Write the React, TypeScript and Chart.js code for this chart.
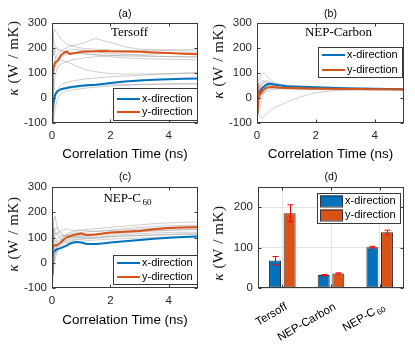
import React, { useEffect, useRef } from 'react';
import { Chart, registerables } from 'chart.js';

Chart.register(...registerables);

const FIG_W = 415;
const FIG_H = 346;

// ---------- data ----------
const TIME_NS = [0, 0.02, 0.05, 0.1, 0.15, 0.2, 0.3, 0.4, 0.5, 0.6, 0.8, 1.0, 1.2, 1.5, 1.8, 2.0, 2.5, 3.0, 3.5, 4.0, 4.5, 5.0];
const SERIES_LABELS = ['x-direction', 'y-direction'];
const X_TICKS = [0, 2, 4];
const Y_TICKS = [-100, 0, 100, 200, 300];
const BAR_TICKS = [0, 100, 200];

// (a) Tersoff
const TERSOFF_X = [-100, -70, -20, 10, 22, 28, 35, 38, 40, 43, 46, 49, 51, 53, 57, 60, 66, 70, 73, 75, 77, 78];
const TERSOFF_Y = [0, 90, 120, 140, 146, 150, 170, 180, 186, 176, 180, 185, 186, 187, 188, 187, 186, 185, 182, 180, 177, 175];
const TERSOFF_RUNS = [
  [0, 150, 260, 275, 265, 255, 235, 225, 215, 210, 205, 200, 198, 195, 193, 192, 190, 190, 192, 193, 193, 195],
  [0, 40, 110, 150, 170, 175, 185, 195, 200, 208, 212, 218, 226, 238, 228, 222, 205, 195, 192, 190, 188, 188],
  [0, 200, 170, 185, 200, 195, 190, 185, 188, 192, 195, 193, 190, 185, 180, 178, 175, 170, 168, 165, 165, 163],
  [0, 60, 90, 120, 135, 145, 160, 170, 175, 178, 182, 180, 176, 172, 168, 165, 160, 158, 156, 155, 154, 152],
  [0, 250, 200, 170, 160, 155, 150, 148, 145, 140, 130, 120, 112, 105, 100, 98, 96, 96, 97, 98, 100, 102],
  [0, -80, -40, 0, 20, 35, 50, 58, 62, 66, 70, 74, 77, 80, 83, 85, 88, 91, 94, 96, 98, 100],
  [0, -120, -90, -50, -20, 0, 15, 22, 27, 30, 34, 37, 40, 43, 46, 48, 51, 53, 55, 56, 57, 58],
  [0, 80, 50, 35, 30, 28, 30, 33, 36, 38, 42, 45, 48, 50, 52, 53, 54, 55, 55, 56, 56, 55],
  [0, 300, 240, 210, 200, 195, 190, 188, 185, 183, 180, 178, 176, 174, 172, 170, 168, 167, 166, 166, 165, 165],
  [0, -30, 30, 80, 110, 125, 135, 140, 145, 150, 155, 158, 162, 165, 168, 170, 172, 174, 176, 178, 180, 182],
];

// (b) NEP-Carbon
const CARBON_X = [-60, -30, 10, 25, 35, 42, 52, 57, 56, 53, 50, 47, 46, 45, 44, 43, 41, 39, 38, 37, 36, 35];
const CARBON_Y = [50, -60, 30, 15, 22, 30, 40, 43, 44, 43, 41, 40, 40, 39, 38, 38, 37, 36, 36, 35, 35, 34];
const CARBON_RUNS = [
  [0, -40, -60, -75, -80, -78, -65, -55, -45, -38, -28, -18, -8, 5, 15, 22, 28, 32, 34, 35, 35, 35],
  [0, 30, 60, 85, 95, 100, 95, 80, 70, 62, 55, 50, 47, 45, 42, 40, 38, 36, 35, 34, 34, 34],
  [0, 60, 40, 30, 45, 60, 70, 68, 62, 58, 52, 48, 46, 44, 42, 41, 40, 38, 37, 36, 35, 35],
  [0, -60, -20, 10, 20, 30, 45, 55, 60, 58, 54, 50, 48, 46, 44, 43, 41, 39, 37, 36, 35, 34],
  [0, 50, 20, 0, 10, 20, 35, 42, 45, 44, 42, 40, 38, 37, 36, 35, 34, 34, 33, 33, 32, 32],
  [0, -30, 10, 40, 55, 62, 65, 62, 58, 55, 50, 47, 45, 43, 41, 40, 39, 38, 37, 36, 36, 35],
  [0, 20, -30, -10, 15, 30, 48, 52, 50, 48, 45, 42, 40, 39, 38, 37, 36, 35, 35, 34, 34, 33],
  [0, 40, 55, 40, 25, 20, 25, 30, 33, 35, 36, 36, 35, 35, 34, 34, 33, 33, 33, 32, 32, 32],
  [0, -10, 30, 60, 70, 72, 60, 50, 45, 42, 40, 38, 37, 37, 36, 36, 35, 35, 34, 34, 34, 34],
  [0, 10, -50, -40, -10, 10, 30, 38, 40, 40, 39, 38, 37, 36, 36, 35, 35, 35, 34, 34, 34, 34],
];

// (c) NEP-C60
const C60_X = [-45, 20, 42, 48, 52, 55, 58, 63, 68, 75, 82, 80, 74, 74, 77, 80, 85, 90, 95, 99, 102, 104];
const C60_Y = [135, 50, 65, 70, 68, 72, 80, 92, 100, 105, 112, 116, 110, 112, 117, 120, 123, 126, 133, 138, 140, 141];
const C60_RUNS = [
  [0, 180, 150, 120, 110, 115, 125, 130, 135, 130, 128, 130, 132, 135, 138, 140, 145, 150, 155, 158, 160, 161],
  [0, -80, -20, 30, 60, 75, 90, 100, 110, 115, 118, 120, 122, 125, 128, 130, 135, 140, 143, 146, 148, 148],
  [0, 100, 160, 185, 160, 130, 110, 105, 100, 102, 105, 108, 110, 112, 115, 118, 122, 126, 128, 130, 132, 132],
  [0, 40, 0, 20, 50, 70, 80, 85, 88, 90, 92, 95, 98, 100, 105, 108, 112, 115, 118, 120, 121, 121],
  [0, -40, 20, 60, 90, 100, 105, 108, 110, 108, 105, 100, 98, 100, 102, 104, 106, 108, 110, 111, 112, 112],
  [0, 120, 80, 50, 40, 45, 60, 72, 80, 85, 90, 92, 95, 97, 100, 102, 105, 108, 110, 112, 115, 116],
  [0, 60, 100, 130, 140, 135, 120, 110, 105, 100, 98, 100, 104, 108, 112, 115, 118, 122, 125, 128, 130, 132],
  [0, -60, -30, 10, 30, 50, 70, 82, 90, 95, 100, 105, 110, 115, 118, 120, 125, 130, 135, 140, 142, 145],
  [0, 150, 120, 90, 80, 85, 95, 105, 115, 120, 125, 128, 126, 124, 125, 127, 130, 133, 136, 138, 140, 140],
  [0, 20, 70, 110, 120, 110, 95, 85, 80, 80, 82, 85, 88, 90, 92, 94, 96, 98, 100, 102, 104, 106],
];

// (d) averages
const POTENTIALS = ['Tersoff', 'NEP-Carbon', 'NEP-C'];
const POTENTIAL_SUBS = ['', '', '60'];
const MEAN_X = [68, 32, 101];
const ERR_X = [10, 1.5, 2];
const MEAN_Y = [185, 36, 138];
const ERR_Y = [21, 1.5, 5];

// ---------- styles ----------
const BLUE = '#0072BD';
const ORANGE = '#D95319';
const GRAY = '#9c9c9c';
const FRAME = '#3a3a3a';
const TICK_TXT = '#262626';
const SANS = '"Liberation Sans", Arial, sans-serif';
const SERIF = '"Liberation Serif", "Times New Roman", serif';

type Area = { l: number; r: number; t: number; b: number };

function drawYLabel(ctx: CanvasRenderingContext2D, x: number, y: number) {
  ctx.save();
  ctx.translate(x, y);
  ctx.rotate(-Math.PI / 2);
  ctx.fillStyle = '#111';
  ctx.textBaseline = 'middle';
  ctx.textAlign = 'left';
  (ctx as any).letterSpacing = '0.6px';
  const k = '\u03BA';
  const rest = ' (W / mK)';
  ctx.font = `italic 15px ${SERIF}`;
  const w1 = ctx.measureText(k).width;
  ctx.font = `15px ${SERIF}`;
  const w2 = ctx.measureText(rest).width;
  const x0 = -(w1 + w2) / 2;
  ctx.font = `italic 15px ${SERIF}`;
  ctx.fillText(k, x0, 0);
  ctx.font = `15px ${SERIF}`;
  ctx.fillText(rest, x0 + w1, 0);
  ctx.restore();
}

function drawSubText(ctx: CanvasRenderingContext2D, main: string, sub: string, x: number, y: number, size: number, family: string, align: 'center' | 'right') {
  ctx.textBaseline = 'middle';
  ctx.textAlign = 'left';
  ctx.font = `${size}px ${family}`;
  const wm = ctx.measureText(main).width;
  ctx.font = `${size * 0.7}px ${family}`;
  const gap = sub ? size * 0.12 : 0;
  const ws = sub ? ctx.measureText(sub).width : 0;
  const total = wm + gap + ws;
  const x0 = align === 'center' ? x - total / 2 : x - total;
  ctx.font = `${size}px ${family}`;
  ctx.fillText(main, x0, y);
  if (sub) {
    ctx.font = `${size * 0.7}px ${family}`;
    ctx.fillText(sub, x0 + wm + gap, y + size * 0.28);
  }
}

const decor = {
  id: 'decor',
  afterDatasetsDraw(chart: any, _a: any, o: any) {
    if (!o.errors) return;
    const { ctx } = chart;
    const ys = chart.scales.y;
    ctx.save();
    ctx.strokeStyle = '#ff0000';
    ctx.lineWidth = 1;
    o.errors.forEach((errs: number[], di: number) => {
      const meta = chart.getDatasetMeta(di);
      const vals = chart.data.datasets[di].data as number[];
      meta.data.forEach((bar: any, j: number) => {
        const x = Math.round(bar.x) + 0.5;
        const top = ys.getPixelForValue(vals[j] + errs[j]);
        const bot = ys.getPixelForValue(vals[j] - errs[j]);
        ctx.beginPath();
        ctx.moveTo(x, top); ctx.lineTo(x, bot);
        ctx.moveTo(x - 3, top); ctx.lineTo(x + 3, top);
        ctx.moveTo(x - 3, bot); ctx.lineTo(x + 3, bot);
        ctx.stroke();
      });
    });
    ctx.restore();
  },
  afterDraw(chart: any, _a: any, o: any) {
    const { ctx, chartArea: a } = chart;
    const xs = chart.scales.x;
    const ys = chart.scales.y;
    ctx.save();
    const l = Math.round(a.left) + 0.5;
    const r = Math.round(a.right) - 0.5;
    const t = Math.round(a.top) + 0.5;
    const b = Math.round(a.bottom) - 0.5;
    const TL = 3;
    ctx.strokeStyle = FRAME;
    ctx.lineWidth = 1;
    ctx.beginPath();
    xs.ticks.forEach((_: any, i: number) => {
      const px = Math.round(xs.getPixelForTick(i)) + 0.5;
      ctx.moveTo(px, b); ctx.lineTo(px, b - TL);
      ctx.moveTo(px, t); ctx.lineTo(px, t + TL);
    });
    ys.ticks.forEach((_: any, i: number) => {
      const py = Math.round(ys.getPixelForTick(i)) + 0.5;
      ctx.moveTo(l, py); ctx.lineTo(l + TL, py);
      ctx.moveTo(r, py); ctx.lineTo(r - TL, py);
    });
    ctx.stroke();
    ctx.strokeRect(l, t, r - l, b - t);

    const cx = (a.left + a.right) / 2;
    ctx.fillStyle = '#000';
    ctx.font = `10.5px ${SANS}`;
    ctx.textAlign = 'center';
    ctx.textBaseline = 'middle';
    ctx.fillText(o.title, cx, o.titleY);
    if (o.xlabelY) {
      ctx.font = `13.4px ${SANS}`;
      ctx.fillText('Correlation Time (ns)', cx, o.xlabelY);
    }
    drawYLabel(ctx, o.ylabel.x, o.ylabel.y);
    if (o.note) {
      ctx.fillStyle = '#000';
      drawSubText(ctx, o.note.text, o.note.sub, o.note.x, o.note.y, 13, SERIF, 'center');
    }
    if (o.cats) {
      ctx.fillStyle = '#000';
      POTENTIALS.forEach((name, i) => {
        const px = xs.getPixelForTick(i);
        ctx.save();
        ctx.translate(px + 4, o.cats.y);
        ctx.rotate(-Math.PI / 6);
        drawSubText(ctx, name, POTENTIAL_SUBS[i], 0, 0, 11.5, SANS, 'right');
        ctx.restore();
      });
    }
    const lg = o.legend;
    if (lg) {
      ctx.fillStyle = '#fff';
      ctx.fillRect(lg.x, lg.y, lg.w, lg.h);
      ctx.strokeStyle = FRAME;
      ctx.lineWidth = 1;
      ctx.strokeRect(lg.x + 0.5, lg.y + 0.5, lg.w, lg.h);
      const colors = [BLUE, ORANGE];
      lg.rows.forEach((ry: number, i: number) => {
        if (lg.patch) {
          ctx.fillStyle = colors[i];
          ctx.fillRect(lg.x + 3, ry - 5.5, 23, 11);
          ctx.strokeStyle = '#333';
          ctx.strokeRect(lg.x + 3.5, ry - 5, 22, 11);
        } else {
          ctx.strokeStyle = colors[i];
          ctx.lineWidth = 2;
          ctx.beginPath();
          ctx.moveTo(lg.x + 4, ry);
          ctx.lineTo(lg.x + 27, ry);
          ctx.stroke();
        }
        ctx.fillStyle = '#000';
        ctx.font = `11px ${SANS}`;
        ctx.textAlign = 'left';
        ctx.textBaseline = 'middle';
        ctx.fillText(SERIES_LABELS[i], lg.x + (lg.patch ? 28 : 29), ry);
      });
    }
    ctx.restore();
  },
};

type LinePanel = {
  area: Area;
  xs: number[];
  ys: number[];
  runs: number[][];
  decor: any;
};

const PANELS: LinePanel[] = [
  {
    area: { l: 52, r: 198, t: 23, b: 123 },
    xs: TERSOFF_X, ys: TERSOFF_Y, runs: TERSOFF_RUNS,
    decor: {
      title: '(a)', titleY: 14, xlabelY: 154,
      ylabel: { x: 14, y: 58 },
      note: { text: 'Tersoff', sub: '', x: 129.5, y: 33 },
      legend: { x: 113, y: 88, w: 84, h: 32, rows: [99, 112] },
    },
  },
  {
    area: { l: 257, r: 404, t: 23, b: 123 },
    xs: CARBON_X, ys: CARBON_Y, runs: CARBON_RUNS,
    decor: {
      title: '(b)', titleY: 14, xlabelY: 154,
      ylabel: { x: 219, y: 61 },
      note: { text: 'NEP-Carbon', sub: '', x: 338.5, y: 33 },
      legend: { x: 318, y: 47, w: 84, h: 30, rows: [55, 70] },
    },
  },
  {
    area: { l: 52, r: 198, t: 187, b: 288 },
    xs: C60_X, ys: C60_Y, runs: C60_RUNS,
    decor: {
      title: '(c)', titleY: 177, xlabelY: 320,
      ylabel: { x: 14, y: 234 },
      note: { text: 'NEP-C', sub: '60', x: 127.5, y: 199 },
      legend: { x: 113, y: 255, w: 84, h: 29, rows: [263, 277] },
    },
  },
];

const BAR_AREA: Area = { l: 258, r: 404, t: 187, b: 288 };

const tickFont = { family: SANS, size: 11.5 };

function makeLine(canvas: HTMLCanvasElement, p: LinePanel) {
  const pts = (v: number[]) => TIME_NS.map((t, i) => ({ x: t, y: v[i] }));
  const datasets: any[] = [
    { label: SERIES_LABELS[1], data: pts(p.ys), borderColor: ORANGE, borderWidth: 2, order: 0 },
    { label: SERIES_LABELS[0], data: pts(p.xs), borderColor: BLUE, borderWidth: 2, order: 1 },
    ...p.runs.map((r) => ({ data: pts(r), borderColor: GRAY, borderWidth: 0.5, order: 2 })),
  ];
  return new Chart(canvas, {
    type: 'line',
    data: { datasets },
    options: {
      responsive: false,
      animation: false,
      events: [],
      layout: { padding: { left: 0, top: p.area.t, right: FIG_W - p.area.r, bottom: 0 } },
      elements: { point: { radius: 0 }, line: { tension: 0, borderJoinStyle: 'round' } },
      plugins: { legend: { display: false }, tooltip: { enabled: false }, decor: p.decor } as any,
      scales: {
        x: {
          type: 'linear', min: 0, max: 5,
          grid: { display: false, drawTicks: false },
          border: { display: false },
          ticks: { padding: 6, font: tickFont, color: TICK_TXT, maxRotation: 0 },
          afterBuildTicks: (s: any) => { s.ticks = X_TICKS.map((v) => ({ value: v })); },
          afterFit: (s: any) => { s.height = FIG_H - p.area.b; },
        },
        y: {
          type: 'linear', min: -100, max: 300,
          grid: { display: false, drawTicks: false },
          border: { display: false },
          ticks: { padding: 5, font: tickFont, color: TICK_TXT },
          afterBuildTicks: (s: any) => { s.ticks = Y_TICKS.map((v) => ({ value: v })); },
          afterFit: (s: any) => { s.width = p.area.l; },
        },
      },
    } as any,
    plugins: [decor as any],
  });
}

function makeBar(canvas: HTMLCanvasElement) {
  const a = BAR_AREA;
  return new Chart(canvas, {
    type: 'bar',
    data: {
      labels: POTENTIALS.map((n, i) => n + POTENTIAL_SUBS[i]),
      datasets: [
        { label: SERIES_LABELS[0], data: MEAN_X, backgroundColor: BLUE, borderColor: '#2a2a2a', borderWidth: 1, borderSkipped: false },
        { label: SERIES_LABELS[1], data: MEAN_Y, backgroundColor: ORANGE, borderColor: '#2a2a2a', borderWidth: 1, borderSkipped: false },
      ],
    },
    options: {
      responsive: false,
      animation: false,
      events: [],
      categoryPercentage: 0.6,
      barPercentage: 0.82,
      layout: { padding: { left: 0, top: a.t, right: FIG_W - a.r, bottom: 0 } },
      plugins: {
        legend: { display: false }, tooltip: { enabled: false },
        decor: {
          title: '(d)', titleY: 177,
          ylabel: { x: 219, y: 243 },
          errors: [ERR_X, ERR_Y],
          cats: { y: 306 },
          legend: { x: 317, y: 193, w: 83, h: 30, rows: [201, 215], patch: true },
        },
      } as any,
      scales: {
        x: {
          grid: { display: true, offset: false, drawTicks: false, color: '#e3e3e3' },
          border: { display: false },
          ticks: { display: false },
          afterFit: (s: any) => { s.height = FIG_H - a.b; },
        },
        y: {
          min: 0, max: 250,
          grid: { display: true, drawTicks: false, color: '#e3e3e3' },
          border: { display: false },
          ticks: { padding: 5, font: tickFont, color: TICK_TXT },
          afterBuildTicks: (s: any) => { s.ticks = BAR_TICKS.map((v) => ({ value: v })); },
          afterFit: (s: any) => { s.width = a.l; },
        },
      },
    } as any,
    plugins: [decor as any],
  });
}

function Layer({ make }: { make: (c: HTMLCanvasElement) => Chart }) {
  const ref = useRef<HTMLCanvasElement>(null);
  useEffect(() => {
    const chart = make(ref.current!);
    return () => chart.destroy();
  }, []);
  return (
    <canvas
      ref={ref}
      width={FIG_W}
      height={FIG_H}
      style={{ position: 'absolute', left: 0, top: 0, width: FIG_W, height: FIG_H }}
    />
  );
}

export default function App() {
  return (
    <div style={{ position: 'fixed', left: 0, top: 0, width: FIG_W, height: FIG_H, background: '#fff', overflow: 'hidden' }}>
      {PANELS.map((p, i) => (
        <Layer key={i} make={(c) => makeLine(c, p)} />
      ))}
      <Layer make={makeBar} />
    </div>
  );
}
